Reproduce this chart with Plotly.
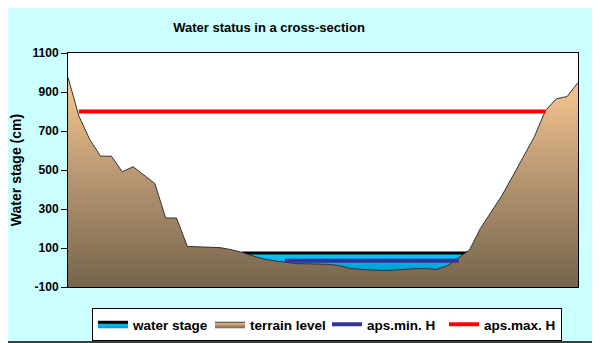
import plotly.graph_objects as go

# cross-section profile, one value per survey point (cm)
terrain = [975, 777, 657, 571, 571, 491, 517, 474, 431, 254,
           254, 108, 105, 105, 102, 92, 78, 60, 44, 34,
           27, 20, 19, 19, 16, 10, -5, -10, -13, -16,
           -14, -10, -6, -6, -10, 10, 50, 90, 200, 285,
           370, 470, 570, 673, 805, 865, 877, 949]
points = list(range(len(terrain)))

water_level = 75
water_points = list(range(16, 38))
aps_min = 34
aps_min_points = list(range(20, 37))
aps_max = 800
aps_max_points = list(range(1, 45))

y_min, y_max = -100, 1100
tick_vals = list(range(-100, 1101, 200))

# the page body adds an 8px offset, so the figure is 8px smaller
OFF = 8
W, H = 600 - OFF, 343 - OFF
ML, MR, MT, MB = 68 - OFF, 22, 53 - OFF, 56
FONT = "Arial, Liberation Sans, sans-serif"

fig = go.Figure()

# water: filled from axis bottom up to the water level, terrain covers the rest
fig.add_trace(go.Scatter(x=water_points, y=[y_min] * len(water_points),
                         mode="lines", line=dict(width=0), showlegend=False,
                         hoverinfo="skip"))
fig.add_trace(go.Scatter(x=water_points, y=[water_level] * len(water_points),
                         name="<b>water stage</b>", mode="lines", fill="tonexty",
                         line=dict(color="black", width=3),
                         fillgradient=dict(type="vertical", start=-20, stop=water_level,
                                           colorscale=[[0, "#0099cc"], [1, "#00ccff"]])))

fig.add_trace(go.Scatter(x=points, y=[y_min] * len(points),
                         mode="lines", line=dict(width=0), showlegend=False,
                         hoverinfo="skip"))
fig.add_trace(go.Scatter(x=points, y=terrain, name="<b>terrain level</b>",
                         mode="lines", fill="tonexty",
                         line=dict(color="#333333", width=1),
                         fillgradient=dict(type="vertical", start=y_min, stop=975,
                                           colorscale=[[0, "#76644c"], [0.5, "#b39470"],
                                                       [1, "#fbc890"]])))

fig.add_trace(go.Scatter(x=aps_min_points, y=[aps_min] * len(aps_min_points),
                         name="<b>aps.min. H</b>", mode="lines",
                         line=dict(color="#333399", width=4)))
fig.add_trace(go.Scatter(x=aps_max_points, y=[aps_max] * len(aps_max_points),
                         name="<b>aps.max. H</b>", mode="lines",
                         line=dict(color="#ff0000", width=4)))

pw = W - ML - MR
ph = H - MT - MB


def px_x(page_x):
    return (page_x - OFF - ML) / pw


def px_y(page_y):
    return (H - MB - (page_y - OFF)) / ph


# outer frame of the chart (right and bottom edges)
fig.add_shape(type="line", xref="paper", yref="paper",
              x0=px_x(599), x1=px_x(599), y0=px_y(0), y1=px_y(342),
              line=dict(color="black", width=1.5))
fig.add_shape(type="line", xref="paper", yref="paper",
              x0=px_x(0), x1=px_x(599), y0=px_y(342), y1=px_y(342),
              line=dict(color="black", width=1.5))
# legend shadow
fig.add_shape(type="rect", xref="paper", yref="paper",
              x0=px_x(96), x1=px_x(559), y0=px_y(339), y1=px_y(312),
              line=dict(width=0), fillcolor="black")

fig.update_layout(
    width=W, height=H,
    margin=dict(l=ML, r=MR, t=MT, b=MB, autoexpand=False),
    paper_bgcolor="#ccffff",
    plot_bgcolor="white",
    font=dict(family=FONT, size=12, color="black"),
    title=dict(text="<b>Water status in a cross-section</b>",
               x=(269 - OFF) / W, xanchor="center", y=1 - (27 - OFF) / H,
               yanchor="middle", font=dict(size=13)),
    xaxis=dict(range=[0, len(terrain) - 1], showticklabels=False, ticks="",
               showgrid=False, zeroline=False, showline=True, automargin=False,
               linecolor="black", linewidth=1, mirror=True),
    yaxis=dict(range=[y_min, y_max], tickvals=tick_vals,
               ticktext=[f"<b>{v}</b>" for v in tick_vals],
               ticks="outside", ticklen=6, tickcolor="black", automargin=False,
               showgrid=False, zeroline=False, showline=True,
               linecolor="black", linewidth=1, mirror=True,
               title=dict(text="<b>Water stage (cm)</b>", standoff=8)),
    legend=dict(orientation="h", x=px_x(92), xanchor="left",
                y=px_y(308), yanchor="top",
                bgcolor="white", bordercolor="black", borderwidth=1,
                font=dict(size=13.5), traceorder="normal", itemwidth=30,
                entrywidth=72, entrywidthmode="pixels",
                tracegroupgap=0),
    showlegend=True,
)

fig.write_html("out.html")
